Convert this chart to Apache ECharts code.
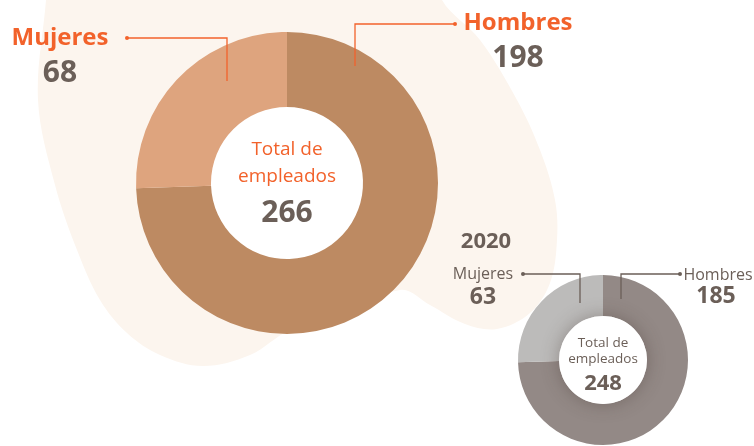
<!DOCTYPE html>
<html>
<head>
<meta charset="utf-8">
<script src="https://cdn.jsdelivr.net/npm/echarts@6/dist/echarts.min.js"></script>
<style>
html,body{margin:0;padding:0;background:#fff;}
#chart{width:754px;height:446px;}
</style>
</head>
<body>
<div id="chart"></div>
<script>
const categories = ['Hombres', 'Mujeres'];
const valuesCurrent = [198, 68];
const values2020 = [185, 63];
const yearLabel = '2020';
const centerLabel = ['Total de', 'empleados'];

const FONT = '"Open Sans", "Noto Sans", sans-serif';
const ORANGE = '#F2622B';
const GRAY = '#6B5F58';
const sum = a => a.reduce((s, v) => s + v, 0);

const chart = echarts.init(document.getElementById('chart'), null, {renderer: 'canvas'});

function txt(text, x, y, size, weight, color) {
  return {
    type: 'text', z: 100,
    style: {
      text: String(text), x: x, y: y,
      font: weight + ' ' + size + 'px ' + FONT,
      fill: color, textAlign: 'center', textVerticalAlign: 'middle'
    }
  };
}
function line(points, color) {
  return {type: 'polyline', z: 100, shape: {points: points},
    style: {stroke: color, lineWidth: 1.3, fill: null}};
}
function dot(x, y, color) {
  return {type: 'circle', z: 100, shape: {cx: x, cy: y, r: 2}, style: {fill: color}};
}

const blobPoints = [
  [48, -30], [46, 0], [38, 100], [55, 185], [77, 250], [100, 300], [127, 333],
  [160, 355], [203, 366], [250, 355], [290, 330], [400, 290], [430, 305],
  [465, 324], [497, 329], [530, 313], [550, 283], [557, 240], [555, 200],
  [540, 150], [517, 100], [480, 40], [442, 0], [440, -30]
];

const graphic = [
  {type: 'polygon', z: 0, shape: {points: blobPoints, smooth: 0.35},
    style: {fill: '#FCF5EE'}},
  {type: 'circle', z: 1, shape: {cx: 287, cy: 183, r: 77}, style: {fill: '#ffffff'}},
  {type: 'circle', z: 3, shape: {cx: 603, cy: 360, r: 44},
    style: {fill: '#ffffff', shadowBlur: 18, shadowColor: 'rgba(60,45,40,0.35)'}},

  // big labels
  txt(categories[1], 60, 38, 24, 'bold', ORANGE),
  txt(valuesCurrent[1], 60, 73, 30, 'bold', GRAY),
  txt(categories[0], 518, 23, 24, 'bold', ORANGE),
  txt(valuesCurrent[0], 518, 58, 30, 'bold', GRAY),
  line([[127, 38], [227, 38], [227, 81]], ORANGE), dot(127, 38, ORANGE),
  line([[355, 66], [355, 24], [455, 24]], ORANGE), dot(455, 24, ORANGE),
  txt(centerLabel[0], 287, 150, 19, 'normal', ORANGE),
  txt(centerLabel[1], 287, 177, 19, 'normal', ORANGE),
  txt(sum(valuesCurrent), 287, 213, 30, 'bold', GRAY),

  // small labels
  txt(yearLabel, 486, 242, 22, 'bold', GRAY),
  txt(categories[1], 483, 274, 16, 'normal', GRAY),
  txt(values2020[1], 483, 297, 23, 'bold', GRAY),
  txt(categories[0], 718, 275, 16, 'normal', GRAY),
  txt(values2020[0], 716, 296, 23, 'bold', GRAY),
  line([[523, 274], [580, 274], [580, 303]], GRAY), dot(523, 274, GRAY),
  line([[621, 299], [621, 274], [680, 274]], GRAY), dot(680, 274, GRAY),
  txt(centerLabel[0], 603, 343, 13.5, 'normal', GRAY),
  txt(centerLabel[1], 603, 359, 13.5, 'normal', GRAY),
  txt(sum(values2020), 603, 384, 22, 'bold', GRAY)
];

chart.setOption({
  animation: false,
  graphic: graphic,
  series: [
    {
      type: 'pie', z: 2, silent: true,
      center: [287, 183], radius: [76, 151],
      startAngle: 90, clockwise: true,
      label: {show: false}, labelLine: {show: false},
      data: categories.map((c, i) => ({name: c, value: valuesCurrent[i],
        itemStyle: {color: ['#BD8A62', '#DEA47E'][i]}}))
    },
    {
      type: 'pie', z: 2, silent: true,
      center: [603, 360], radius: [44, 85],
      startAngle: 90, clockwise: true,
      label: {show: false}, labelLine: {show: false},
      data: categories.map((c, i) => ({name: c, value: values2020[i],
        itemStyle: {color: ['#938986', '#BCBBBA'][i]}}))
    }
  ]
});
</script>
</body>
</html>
